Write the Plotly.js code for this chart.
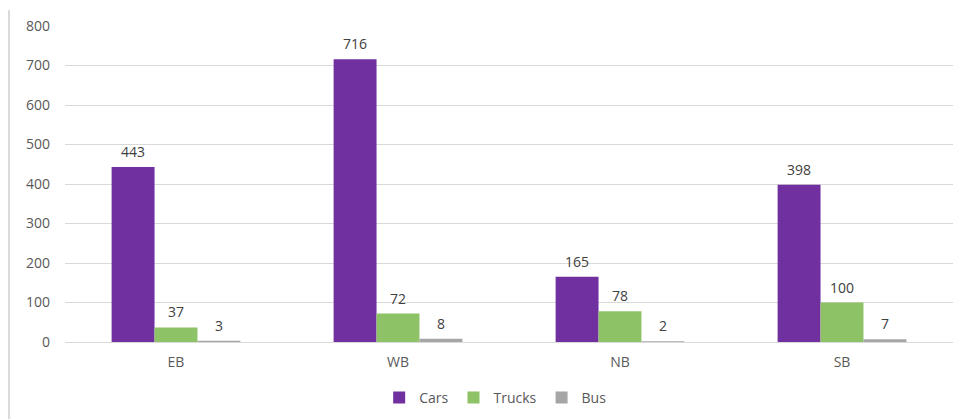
<!DOCTYPE html>
<html>
<head>
<meta charset="utf-8">
<script src="https://cdn.plot.ly/plotly-3.0.1.min.js"></script>
<style>html,body{margin:0;padding:0;background:#fff;}#chart{width:961px;height:419px;}</style>
</head>
<body>
<div id="chart"></div>
<script>
const categories = ["EB", "WB", "NB", "SB"];
const cars = [443, 716, 165, 398];
const trucks = [37, 72, 78, 100];
const bus = [3, 8, 2, 7];
const seriesNames = ["Cars", "Trucks", "Bus"];
const seriesColors = ["#7030A0", "#8DC266", "#A6A6A6"];
const yTicks = [0, 100, 200, 300, 400, 500, 600, 700, 800];

const seriesValues = [cars, trucks, bus];
const traces = seriesValues.map((vals, i) => ({
  type: "bar",
  name: seriesNames[i],
  x: categories,
  y: vals,
  marker: {color: seriesColors[i], line: {width: 0}},
  hoverinfo: "skip"
}));

const shifts = [-43, 0, 43];
const annotations = [];
seriesValues.forEach((vals, i) => {
  vals.forEach((v, j) => {
    annotations.push({
      xref: "x", yref: "y", x: categories[j], y: v,
      text: String(v), showarrow: false,
      xshift: shifts[i], yanchor: "bottom", yshift: 4,
      font: {family: "Open Sans, sans-serif", size: 14, color: "#404040"}
    });
  });
});

const layout = {
  width: 961, height: 419,
  margin: {l: 65, r: 8, t: 26, b: 77, autoexpand: false},
  paper_bgcolor: "#fff", plot_bgcolor: "#fff",
  barmode: "group",
  bargap: 0.42, bargroupgap: 0,
  font: {family: "Open Sans, sans-serif", size: 14, color: "#595959"},
  xaxis: {
    type: "category", showgrid: false, showline: false, zeroline: false,
    ticks: "", ticklabelstandoff: 10, automargin: false,
    tickfont: {size: 14, color: "#595959"}, fixedrange: true
  },
  yaxis: {
    range: [0, 800], tickvals: yTicks, ticktext: yTicks.map(String),
    showgrid: true, gridcolor: "#D9D9D9", gridwidth: 1,
    zeroline: true, zerolinecolor: "#D9D9D9", zerolinewidth: 1,
    showline: false, ticks: "", ticklabelstandoff: 14, automargin: false,
    tickfont: {size: 14, color: "#595959"}, fixedrange: true
  },
  showlegend: true,
  legend: {
    orientation: "h", x: 0.485, xanchor: "center", y: -0.177, yanchor: "middle",
    font: {size: 14, color: "#595959"}, itemwidth: 30, traceorder: "normal"
  },
  annotations: annotations,
  shapes: [{
    type: "line", xref: "paper", yref: "paper",
    x0: -0.063, x1: -0.063, y0: 1.05, y1: -0.26,
    line: {color: "#D9D9D9", width: 2}
  }]
};

Plotly.newPlot("chart", traces, layout, {displayModeBar: false, staticPlot: true});
</script>
</body>
</html>
